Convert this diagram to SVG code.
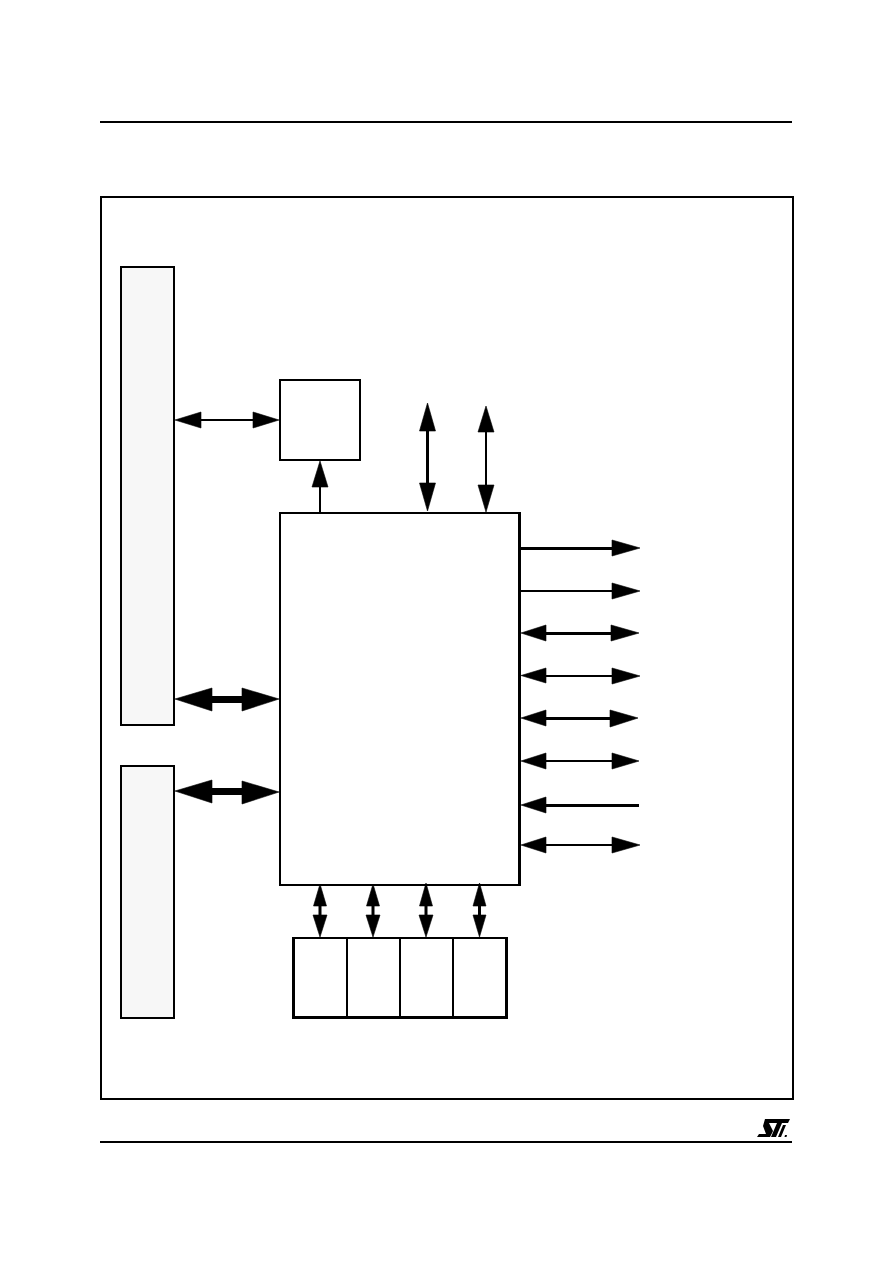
<svg xmlns="http://www.w3.org/2000/svg" width="892" height="1263" viewBox="0 0 892 1263">
<style>
.box{fill:#fff;stroke:#000;stroke-width:2}
.mem{fill:#f7f7f7;stroke:#000;stroke-width:2}
.rule{stroke:#000;stroke-width:2;fill:none}
.thin{stroke:#000;stroke-width:2;fill:none}
.mid{stroke:#000;stroke-width:3;fill:none}
.fat{stroke:#000;stroke-width:7;fill:none}
.head{fill:#000;stroke:#000;stroke-width:.6}
</style>
<rect width="892" height="1263" fill="#fff"/>
<g id="page-rules">
<line class="rule" x1="100" y1="122" x2="792" y2="122"/>
<line class="rule" x1="100" y1="1142" x2="792" y2="1142"/>
</g>
<g id="frame"><rect class="box" x="101" y="197" width="692" height="902"/></g>
<g id="memory-a"><rect class="mem" x="121" y="267" width="53" height="458"/><line class="thin" x1="120" y1="725" x2="175" y2="725"/></g>
<g id="memory-b"><rect class="mem" x="121" y="766" width="53" height="252"/><line class="thin" x1="120" y1="766" x2="175" y2="766"/></g>
<g id="small-block"><rect class="box" x="280" y="380" width="80" height="80"/></g>
<g id="main-block"><rect class="box" x="280" y="513" width="239.500" height="372"/><line class="mid" x1="519.500" y1="512" x2="519.500" y2="886"/></g>
<g id="bottom-blocks">
<rect class="box" x="293" y="938" width="214" height="80"/>
<line class="mid" x1="293.500" y1="937" x2="293.500" y2="1019"/>
<line class="mid" x1="506.500" y1="937" x2="506.500" y2="1019"/>
<line class="mid" x1="292" y1="1017.500" x2="508" y2="1017.500"/>
<line class="thin" x1="347" y1="938" x2="347" y2="1018"/>
<line class="thin" x1="400" y1="938" x2="400" y2="1018"/>
<line class="thin" x1="453" y1="938" x2="453" y2="1018"/>
</g>
<g id="connectors">
<path class="thin" d="M195 420H258"/>
<path class="head" d="M175 420L201 412V428Z"/>
<path class="head" d="M279 420L253 412V428Z"/>
<path class="thin" d="M320 513V482"/>
<path class="head" d="M320 461L312 487H328Z"/>
<path class="mid" d="M427.500 426V488"/>
<path class="head" d="M427.500 403L419.500 431H435.500Z"/>
<path class="head" d="M427.500 511L419.500 483H435.500Z"/>
<path class="thin" d="M486 427V490"/>
<path class="head" d="M486 406L478 432H494Z"/>
<path class="head" d="M486 512L478 485H494Z"/>
<path class="fat" d="M205 699.500H250"/>
<path class="head" d="M175 699L212 688V711Z"/>
<path class="head" d="M279 699L242 688V711Z"/>
<path class="fat" d="M205 791.500H250"/>
<path class="head" d="M175 791L212 780V803Z"/>
<path class="head" d="M279 792L242 781V804Z"/>
<path class="mid" d="M521 548.500H617"/>
<path class="head" d="M640 548L612 540V556Z"/>
<path class="thin" d="M521 591H617"/>
<path class="head" d="M640 591L612 583V599Z"/>
<path class="mid" d="M540 633.500H616"/>
<path class="head" d="M521 633L546 625V641Z"/>
<path class="head" d="M639 633L611 625V641Z"/>
<path class="thin" d="M540 676H617"/>
<path class="head" d="M521 675.500L546 668V683Z"/>
<path class="head" d="M640 676L612 668V684Z"/>
<path class="mid" d="M540 718.500H615"/>
<path class="head" d="M521 718L546 710V726Z"/>
<path class="head" d="M638 718L610 710V727Z"/>
<path class="thin" d="M540 761H617"/>
<path class="head" d="M521 761L546 753V769Z"/>
<path class="head" d="M639 761L612 753V769Z"/>
<path class="mid" d="M540 805.500H639"/>
<path class="head" d="M521 805L546 797V813Z"/>
<path class="thin" d="M540 845H617"/>
<path class="head" d="M521 845L546 837V853Z"/>
<path class="head" d="M640 845L612 837V853Z"/>
<path class="mid" d="M320 900V920"/>
<path class="head" d="M320 884L313.500 906H326.500Z"/>
<path class="head" d="M320 937L313 915H327Z"/>
<path class="mid" d="M373 900V920"/>
<path class="head" d="M373 884L366.500 906H379.500Z"/>
<path class="head" d="M373 937L366 915H380Z"/>
<path class="mid" d="M426 900V920"/>
<path class="head" d="M426 883L419.500 906H432.500Z"/>
<path class="head" d="M426 937L419 915H433Z"/>
<path class="mid" d="M479.500 900V920"/>
<path class="head" d="M479.500 883L473 906H486Z"/>
<path class="head" d="M479.500 937L473 915H486Z"/>
</g>
<g id="logo">
<path d="M765 1119H790L788 1123H782L776 1137H771L777 1123H769L773 1131L770 1137H757L759 1134H766L763 1126Z" fill="#000"/>
<path d="M778 1137L783 1125H786L781 1137Z" fill="#000"/>
<path d="M785 1135h2l-.5 2h-2Z" fill="#000"/>
</g>
</svg>
